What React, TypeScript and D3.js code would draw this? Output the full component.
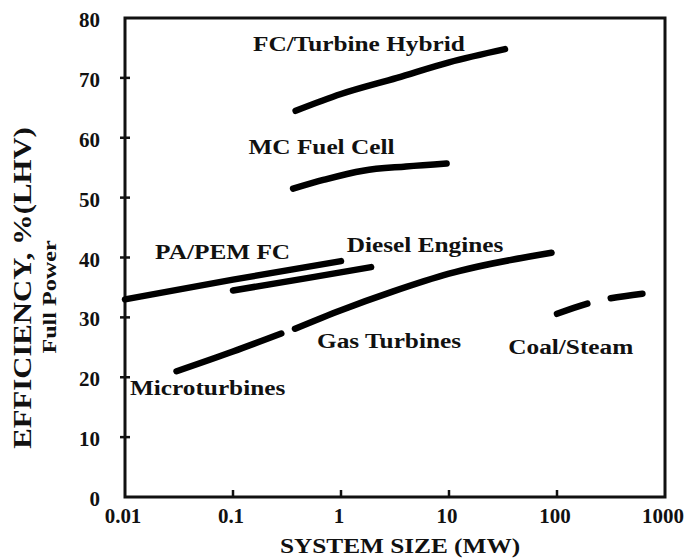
import React from "react";
import * as d3 from "d3";

// 各技術の効率曲線（システム規模 MW, 効率 %）
const fcHybridSize = [0.38, 1, 3.3, 10, 33];
const fcHybridEff = [64.5, 67.3, 70, 72.6, 74.8];

const mcFuelCellSize = [0.36, 0.7, 1.6, 4, 9.5];
const mcFuelCellEff = [51.5, 53, 54.5, 55.2, 55.7];

const paPemSize = [0.01, 0.1, 1];
const paPemEff = [33, 36.3, 39.4];

const dieselSize = [0.1, 0.5, 1.9];
const dieselEff = [34.5, 36.6, 38.4];

const microturbineSize = [0.03, 0.1, 0.28];
const microturbineEff = [21, 24.3, 27.3];

const gasTurbineSize = [0.375, 1, 3, 10, 89];
const gasTurbineEff = [28.1, 31.2, 34.3, 37.3, 40.8];

const coalSteamSize = [100, 200, 650];
const coalSteamEff = [30.6, 32.4, 34];

const xTicks = [0.01, 0.1, 1, 10, 100, 1000];
const xTickLabels = ["0.01", "0.1", "1", "10", "100", "1000"];
const yTicks = [0, 10, 20, 30, 40, 50, 60, 70, 80];

// ラベル（テキスト, 左端の規模, 効率）
const labelText = [
  "FC/Turbine Hybrid",
  "MC Fuel Cell",
  "PA/PEM FC",
  "Diesel Engines",
  "Gas Turbines",
  "Coal/Steam",
  "Microturbines",
];
const labelSize = [0.153, 0.139, 0.019, 1.13, 0.6, 35.4, 0.0111];
const labelEff = [74.5, 57.3, 39.8, 40.9, 24.9, 23.8, 17];

const FONT = "Liberation Serif, Tinos, Times New Roman, serif";
const INK = "#111";

const App: React.FC = () => {
  const width = 686;
  const height = 560;
  const left = 125;
  const right = 665;
  const top = 18;
  const bottom = 497;

  const x = d3.scaleLog().domain([0.01, 1000]).range([left, right]);
  const y = d3.scaleLinear().domain([0, 80]).range([bottom, top]);

  const line = d3
    .line<[number, number]>()
    .x((d) => x(d[0]))
    .y((d) => y(d[1]))
    .curve(d3.curveMonotoneX);

  const series = [
    { s: fcHybridSize, e: fcHybridEff, dash: undefined },
    { s: mcFuelCellSize, e: mcFuelCellEff, dash: undefined },
    { s: paPemSize, e: paPemEff, dash: undefined },
    { s: dieselSize, e: dieselEff, dash: undefined },
    { s: microturbineSize, e: microturbineEff, dash: undefined },
    { s: gasTurbineSize, e: gasTurbineEff, dash: undefined },
    { s: coalSteamSize, e: coalSteamEff, dash: "32,24" },
  ];

  const textStyle = { fontFamily: FONT, fontWeight: 700 as const };

  return (
    <svg
      width={width}
      height={height}
      style={{ position: "absolute", left: 0, top: 0, background: "#fff" }}
    >
      {/* 枠 */}
      <rect
        x={left}
        y={top}
        width={right - left}
        height={bottom - top}
        fill="none"
        stroke={INK}
        strokeWidth={3}
      />

      {/* Y 目盛 */}
      {yTicks.map((t) => (
        <g key={"y" + t}>
          {t > 0 && t < 80 && (
            <line x1={left - 5} x2={left + 5} y1={y(t)} y2={y(t)} stroke={INK} strokeWidth={2.5} />
          )}
          <text
            transform={`translate(${left - 25},${y(t) + 9}) scale(1.05,1)`}
            textAnchor="end"
            style={textStyle}
            fontSize={20}
            fill={INK}
          >
            {t}
          </text>
        </g>
      ))}

      {/* X 目盛 */}
      {xTicks.map((t, i) => (
        <g key={"x" + t}>
          {i > 0 && i < xTicks.length - 1 && (
            <line x1={x(t)} x2={x(t)} y1={bottom} y2={bottom - 7} stroke={INK} strokeWidth={2.5} />
          )}
          <text
            transform={`translate(${x(t) - 2},${bottom + 26}) scale(1.05,1)`}
            textAnchor="middle"
            style={textStyle}
            fontSize={20}
            fill={INK}
          >
            {xTickLabels[i]}
          </text>
        </g>
      ))}

      {/* 曲線 */}
      {series.map((d, i) => (
        <path
          key={"s" + i}
          d={line(d.s.map((v, j) => [v, d.e[j]] as [number, number])) || ""}
          fill="none"
          stroke="#000"
          strokeWidth={6.5}
          strokeLinecap="round"
          strokeDasharray={d.dash}
        />
      ))}

      {/* ラベル */}
      {labelText.map((t, i) => (
        <text
          key={"l" + i}
          transform={`translate(${x(labelSize[i])},${y(labelEff[i])}) scale(1.15,1)`}
          style={textStyle}
          fontSize={22}
          fill={INK}
        >
          {t}
        </text>
      ))}

      {/* 軸タイトル */}
      <text
        transform={`translate(400,553) scale(1.15,1)`}
        textAnchor="middle"
        style={textStyle}
        fontSize={22}
        fill={INK}
      >
        SYSTEM SIZE (MW)
      </text>
      <text
        transform={`translate(31,288) rotate(-90) scale(1.23,1)`}
        textAnchor="middle"
        style={textStyle}
        fontSize={25}
        fill={INK}
      >
        EFFICIENCY, %(LHV)
      </text>
      <text
        transform={`translate(56,297) rotate(-90) scale(1.27,1)`}
        textAnchor="middle"
        style={textStyle}
        fontSize={19}
        fill={INK}
      >
        Full Power
      </text>
    </svg>
  );
};

export default App;
